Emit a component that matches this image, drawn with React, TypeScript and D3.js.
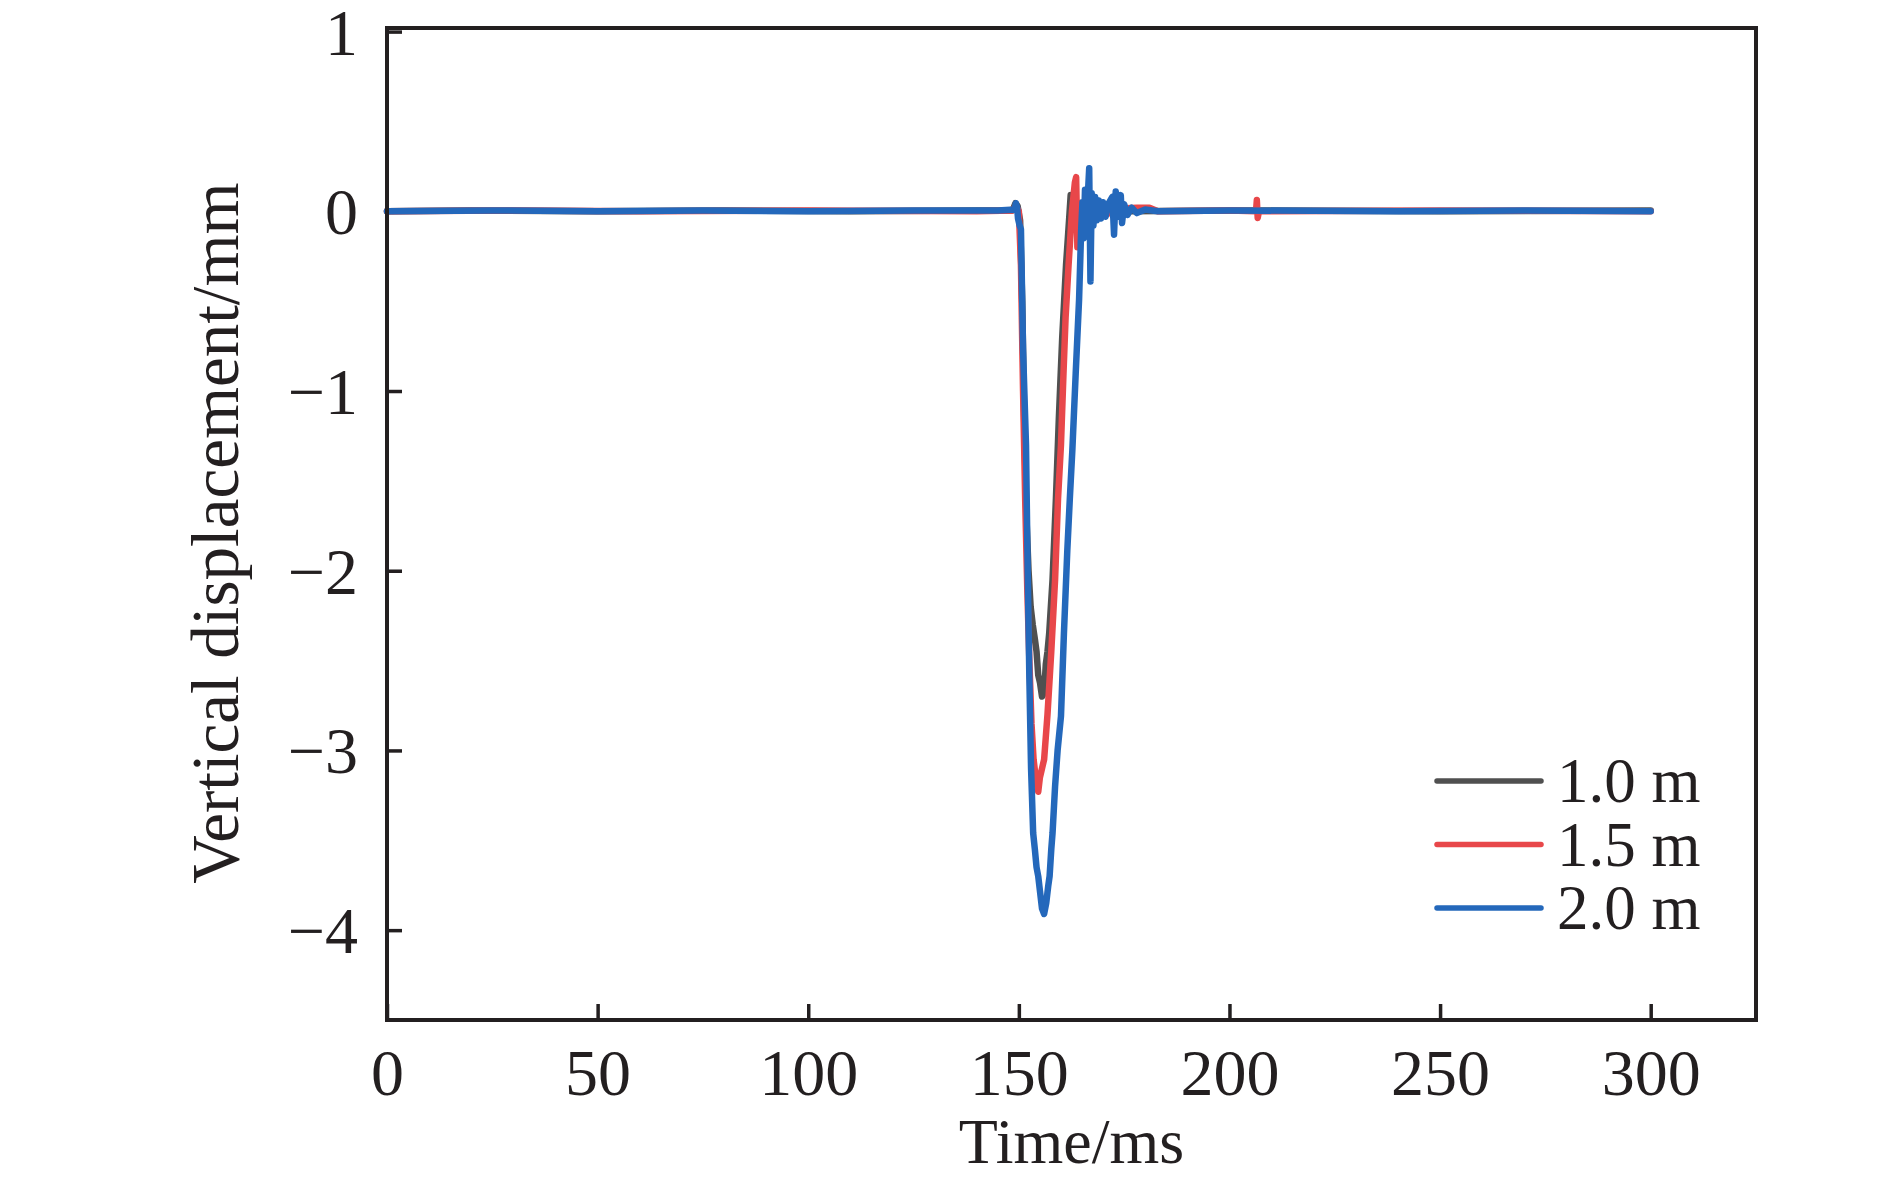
import React, { useEffect, useRef } from 'react'
import * as d3 from 'd3'

// [time ms, displacement mm]
const series10: [number, number][] = [
  [0, 0], [20, 0.005], [50, 0], [80, 0.005], [110, 0], [140, 0.005], [148.5, 0.005],
  [149.2, 0.045], [149.7, 0.03], [150.3, -0.05], [150.8, -0.5], [151.3, -1.2], [151.8, -1.7],
  [152.3, -2.0], [152.8, -2.2], [153.3, -2.3], [153.8, -2.38], [154.2, -2.45], [154.6, -2.58],
  [155.0, -2.62], [155.5, -2.7], [156.0, -2.68], [156.4, -2.52], [156.8, -2.45], [157.2, -2.35],
  [158.0, -2.05], [158.8, -1.6], [159.5, -1.15], [160.3, -0.7], [161.2, -0.3], [162.0, -0.02],
  [162.3, 0.09], [162.9, 0.07], [163.5, -0.05], [164.3, 0.03], [165.5, -0.03], [167, 0.02],
  [169, -0.02], [172, 0.01], [176, 0], [200, 0.005], [250, 0], [300, 0.005],
]

const series15: [number, number][] = [
  [0, 0], [30, 0.005], [60, 0], [100, 0.005], [140, 0], [148.5, 0.005], [149.3, 0.03],
  [150.0, 0], [150.5, -0.3], [151.0, -1.0], [151.5, -1.6], [152.0, -2.1], [152.5, -2.5],
  [153.0, -2.85], [153.5, -3.05], [154.0, -3.15], [154.6, -3.23], [155.0, -3.15], [155.5, -3.1],
  [156.0, -3.05], [156.8, -2.8], [157.7, -2.45], [158.6, -2.05], [159.3, -1.6], [160.0, -1.3],
  [160.6, -0.9], [161.1, -0.59], [161.8, -0.3], [162.6, 0.0], [163.3, 0.16], [163.6, 0.19],
  [163.9, -0.2], [164.2, 0.05], [164.8, -0.04], [165.5, 0.03], [167, -0.02], [169, 0.02],
  [171, -0.015], [174, 0.015], [178, 0.02], [181, 0.02], [183, 0], [200, 0.005], [206.3, 0],
  [206.5, 0.063], [206.7, -0.037], [207, 0], [250, 0.005], [300, 0],
]

const series20: [number, number][] = [
  [0, 0], [25, 0.005], [50, 0], [75, 0.005], [100, 0], [125, 0.005], [145, 0.005], [149.0, 0.01],
  [149.3, 0.045], [149.6, 0.02], [149.8, -0.04], [150.2, -0.08], [150.5, -0.1], [151.0, -0.77],
  [151.7, -1.3], [152.1, -2.0], [152.5, -2.6], [152.9, -3.1], [153.4, -3.46], [153.8, -3.55],
  [154.2, -3.65], [154.6, -3.7], [155.0, -3.78], [155.5, -3.88], [156.0, -3.91], [156.5, -3.85],
  [157.0, -3.75], [157.3, -3.7], [157.7, -3.55], [158.0, -3.46], [158.6, -3.2], [159.2, -3.0],
  [160.0, -2.81], [160.7, -2.35], [161.5, -1.89], [162.1, -1.6], [162.7, -1.33], [163.5, -0.9],
  [164.3, -0.49], [164.8, -0.1], [165.1, 0.05], [165.4, -0.15], [165.7, 0.12], [166.0, -0.1],
  [166.4, 0.1], [166.7, 0.24], [167.0, -0.39], [167.3, 0.1], [167.7, -0.08], [168.1, 0.08],
  [168.5, -0.05], [169.0, 0.06], [169.5, -0.04], [170.0, 0.05], [170.6, -0.03], [171.2, 0.04],
  [172.2, 0.08], [172.6, -0.13], [173.0, 0.11], [173.5, -0.03], [174.2, 0.09], [174.5, -0.065],
  [175.0, 0.04], [175.8, -0.02], [176.8, 0.02], [178, -0.01], [180, 0.01], [183, 0],
  [200, 0.005], [240, 0], [270, 0.005], [300, 0],
]

const seriesNames = ['1.0 m', '1.5 m', '2.0 m']
const seriesColors = ['#505050', '#e8474a', '#2468bb']
const xTicks = [0, 50, 100, 150, 200, 250, 300]
const yTicks = [1, 0, -1, -2, -3, -4]

const ink = '#231f20'
const font = '"Liberation Serif", "Times New Roman", serif'

const App = () => {
  const ref = useRef(null)
  const margin = { left: 387, top: 28, right: 1756, bottom: 1020 }

  useEffect(() => {
    document.body.style.margin = '0'
    const svg = d3.select(ref.current)
    svg.selectAll('*').remove()

    const x = d3.scaleLinear().domain([0, 325]).range([margin.left, margin.right])
    const y = d3.scaleLinear().domain([-4.5, 1.02]).range([margin.bottom, margin.top])

    const gx = svg.append('g').attr('transform', `translate(0,${margin.bottom})`)
      .call(d3.axisBottom(x).tickValues(xTicks).tickSizeInner(-16).tickSizeOuter(0).tickFormat(d3.format('d')))
    gx.select('.domain').remove()
    gx.selectAll('line').attr('stroke', ink).attr('stroke-width', 3.5)
    gx.selectAll('text').attr('y', 75).attr('dy', 0).attr('fill', ink)
      .style('font-family', font).style('font-size', '66px')

    const gy = svg.append('g').attr('transform', `translate(${margin.left},0)`)
      .call(d3.axisLeft(y).tickValues(yTicks).tickSizeInner(-15).tickSizeOuter(0)
        .tickFormat((d) => (Number(d) < 0 ? '\u2212' + Math.abs(Number(d)) : String(d))))
    gy.select('.domain').remove()
    gy.selectAll('line').attr('stroke', ink).attr('stroke-width', 3.5)
    gy.selectAll('text').attr('x', -29).attr('dy', '0.34em').attr('fill', ink)
      .style('font-family', font).style('font-size', '66px')

    const line = d3.line<[number, number]>().x(d => x(d[0])).y(d => y(d[1]))
    const all = [series10, series15, series20]
    all.forEach((s, i) => {
      svg.append('path').attr('d', line(s) || '').attr('fill', 'none')
        .attr('stroke', seriesColors[i]).attr('stroke-width', 6.5)
        .attr('stroke-linejoin', 'round').attr('stroke-linecap', 'round')
    })

    svg.append('rect').attr('x', margin.left).attr('y', margin.top)
      .attr('width', margin.right - margin.left).attr('height', margin.bottom - margin.top)
      .attr('fill', 'none').attr('stroke', ink).attr('stroke-width', 4)

    const legend = svg.append('g')
    seriesNames.forEach((name, i) => {
      const ly = 781 + i * 63.5
      legend.append('line').attr('x1', 1437).attr('x2', 1541).attr('y1', ly).attr('y2', ly)
        .attr('stroke', seriesColors[i]).attr('stroke-width', 5.5).attr('stroke-linecap', 'round')
      legend.append('text').attr('x', 1557).attr('y', ly + 21).text(name).attr('fill', ink)
        .style('font-family', font).style('font-size', '63px')
    })

    svg.append('text').attr('x', (margin.left + margin.right) / 2).attr('y', 1163)
      .attr('text-anchor', 'middle').attr('fill', ink).text('Time/ms')
      .style('font-family', font).style('font-size', '64px')

    svg.append('text').attr('transform', 'translate(238,533) rotate(-90)')
      .attr('text-anchor', 'middle').attr('fill', ink).text('Vertical displacement/mm')
      .style('font-family', font).style('font-size', '67px')
  }, [])

  return <svg ref={ref} width={1890} height={1185} style={{ display: 'block', background: '#fff' }} />
}

export default App
